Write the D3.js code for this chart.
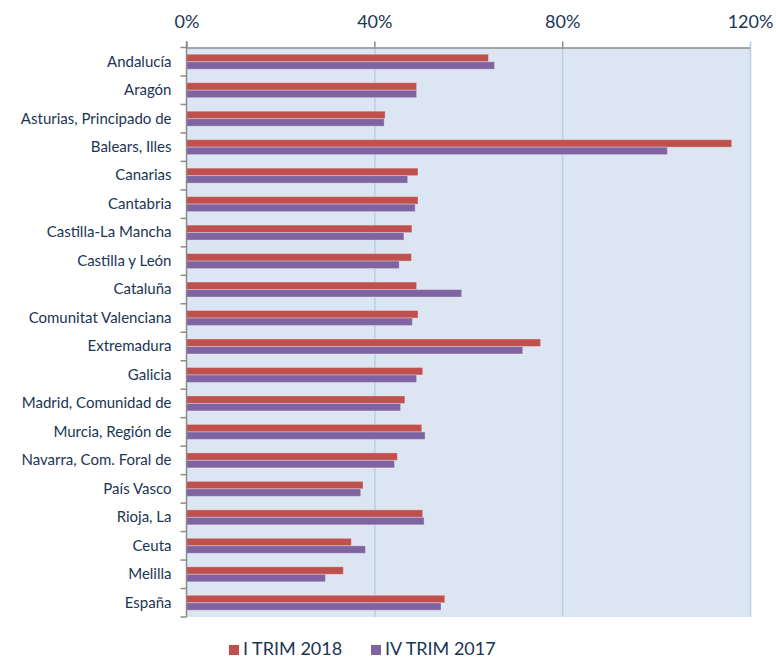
<!DOCTYPE html>
<meta charset="utf-8">
<style>
body {
  margin: 0;
  background-color: #ffffff;
  font-family: Lato, 'Open Sans', sans-serif;
}
text {
  font-family: Lato, 'Open Sans', sans-serif;
  fill: #1B3554;
}
.grid line {
  stroke: #B9CDE5;
  stroke-width: 1.5px;
}
.grid path {
  display: none;
}
.axis path,
.axis line {
  fill: none;
  stroke: #8C8C8C;
  stroke-width: 1.5px;
}
.x.axis text {
  font-size: 18px;
}
.y.axis text {
  font-size: 15px;
}
</style>
<svg width="776" height="661"></svg>
<script src="https://d3js.org/d3.v7.min.js"></script>
<script>
var regions = ["Andalucía", "Aragón", "Asturias, Principado de", "Balears, Illes", "Canarias",
  "Cantabria", "Castilla-La Mancha", "Castilla y León", "Cataluña", "Comunitat Valenciana",
  "Extremadura", "Galicia", "Madrid, Comunidad de", "Murcia, Región de", "Navarra, Com. Foral de",
  "País Vasco", "Rioja, La", "Ceuta", "Melilla", "España"];

var series = ["I TRIM 2018", "IV TRIM 2017"];
var colors = ["#C0504D", "#8064A2"];

var trim1_2018 = [64.3, 49.0, 42.3, 116.1, 49.3, 49.3, 48.0, 47.9, 49.0, 49.3,
                  75.4, 50.3, 46.5, 50.1, 44.9, 37.6, 50.3, 35.1, 33.4, 55.0];
var trim4_2017 = [65.6, 49.0, 42.1, 102.4, 47.1, 48.7, 46.3, 45.3, 58.6, 48.1,
                  71.6, 49.0, 45.6, 50.8, 44.3, 37.1, 50.6, 38.1, 29.6, 54.2];

var ticks = [0, 40, 80, 120];

var svg = d3.select("svg"),
    margin = {top: 47.5, right: 26, bottom: 44, left: 186.5},
    width = +svg.attr("width") - margin.left - margin.right,
    height = +svg.attr("height") - margin.top - margin.bottom;

var data = regions.map(function(r, i) {
  return {region: r, values: [trim1_2018[i], trim4_2017[i]]};
});

var x = d3.scaleLinear().domain([0, 120]).range([0, width]);
var y0 = d3.scaleBand().domain(regions).range([0, height]);
var y1 = d3.scaleBand().domain(series).range([0, y0.bandwidth()]).paddingOuter(0.9).align(0.5);

var g = svg.append("g")
    .attr("transform", "translate(" + margin.left + "," + margin.top + ")");

// plot background
g.append("rect")
    .attr("width", width)
    .attr("height", height)
    .attr("fill", "#DCE6F2");

// vertical gridlines
g.append("g")
    .attr("class", "grid")
    .call(d3.axisTop(x).tickValues(ticks.slice(1)).tickSize(-height).tickFormat(""));

var rows = g.selectAll(".row")
    .data(data)
  .enter().append("g")
    .attr("class", "row")
    .attr("transform", function(d) { return "translate(0," + y0(d.region) + ")"; });

rows.selectAll("rect")
    .data(function(d) { return d.values.map(function(v, i) { return {key: series[i], value: v, c: colors[i]}; }); })
  .enter().append("rect")
    .attr("x", 0)
    .attr("y", function(d) { return y1(d.key); })
    .attr("height", y1.bandwidth())
    .attr("width", function(d) { return x(d.value); })
    .attr("fill", function(d) { return d.c; })
    .attr("stroke", "rgba(255,255,255,0.3)")
    .attr("stroke-width", 1);

// top axis
var xAxis = g.append("g")
    .attr("class", "x axis")
    .call(d3.axisTop(x).tickValues(ticks).tickSize(6).tickSizeOuter(0).tickPadding(14)
      .tickFormat(function(d) { return d + "%"; }));
xAxis.selectAll(".tick:last-of-type line").style("stroke", "#B9CDE5");

// left axis with ticks on band boundaries
var yAxis = g.append("g")
    .attr("class", "y axis")
    .call(d3.axisLeft(y0).tickSize(0).tickPadding(15));
yAxis.select(".domain").remove();
yAxis.append("line")
    .attr("x1", 0).attr("x2", 0)
    .attr("y1", -6).attr("y2", height)
    .attr("stroke", "#8C8C8C").attr("stroke-width", 1.5);
yAxis.selectAll(".bound")
    .data(regions.concat(["end"]))
  .enter().append("line")
    .attr("class", "bound")
    .attr("x1", -6).attr("x2", 0)
    .attr("y1", function(d, i) { return i * y0.step(); })
    .attr("y2", function(d, i) { return i * y0.step(); });

// legend
var legend = svg.append("g")
    .attr("transform", "translate(229,642)");
var items = legend.selectAll(".item")
    .data(series)
  .enter().append("g")
    .attr("class", "item")
    .attr("transform", function(d, i) { return "translate(" + (i * 142) + ",0)"; });
items.append("rect")
    .attr("width", 10).attr("height", 10)
    .attr("y", 3)
    .attr("fill", function(d, i) { return colors[i]; });
items.append("text")
    .attr("x", 14)
    .attr("y", 13)
    .style("font-size", "18px")
    .text(function(d) { return d; });
</script>
